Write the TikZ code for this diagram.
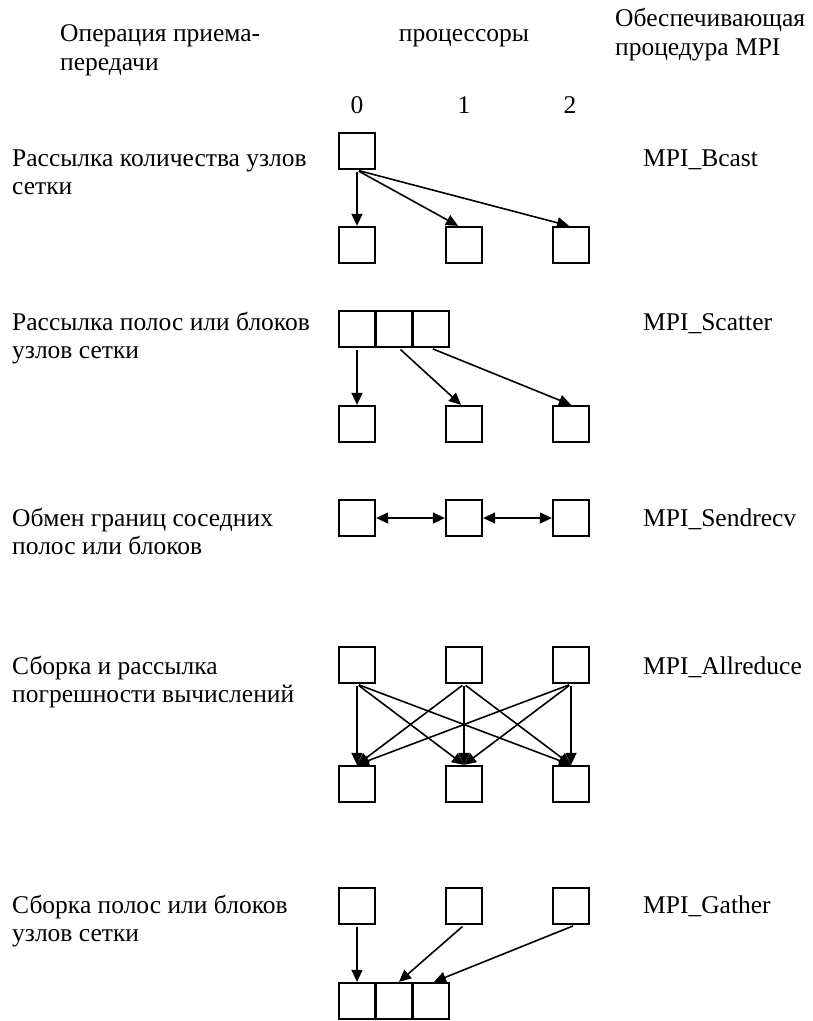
\documentclass[tikz,border=0pt]{standalone}
\usepackage{fontspec}
\setmainfont{Liberation Serif}
\usetikzlibrary{arrows.meta, positioning}

\begin{document}
\begin{tikzpicture}[x=1pt, y=-1pt, >={Triangle[length=12pt, width=11pt]}]
	\tikzstyle{cell} = [draw, line width=2.3pt, minimum size=36pt, inner sep=0pt]
	\tikzstyle{txt} = [font=\fontsize{25.5}{28.5}\selectfont, align=left, anchor=base west, inner sep=0pt]
	\tikzstyle{link} = [->, line width=1.6pt, shorten <=2pt]

	\useasboundingbox (0,0) rectangle (813,1021);

	% headers (base of a two-line node = its last line)
	\node[txt] (oper) at (60,70) {Операция приема-\\передачи};
	\node[txt, anchor=base] (proc) at (464,41) {процессоры};
	\node[txt] (mpi) at (615,55) {Обеспечивающая\\процедура MPI};
	\node[txt, anchor=base] (n0) at (357,113) {0};
	\node[txt, anchor=base] (n1) at (464,113) {1};
	\node[txt, anchor=base] (n2) at (570,113) {2};

	% MPI_Bcast
	\begin{scope}[node distance=94pt]
		\node[txt] (lbcast) at (12,194.5) {Рассылка количества узлов\\сетки};
		\node[txt] (mbcast) at (643,166) {MPI\_Bcast};
		\path[link]
			node[cell] (t0) at (357,151) {}
			node[cell, below of=t0] (d0) {}
			node[cell, right of=d0, node distance=107pt] (d1) {}
			node[cell, right of=d1, node distance=107pt] (d2) {}

			(t0.south) edge (d0.north)
			(t0.south) edge ([xshift=-6pt]d1.north)
			(t0.south) edge ([xshift=-2pt]d2.north)
		;
	\end{scope}

	% MPI_Scatter
	\begin{scope}[node distance=95pt]
		\node[txt] (lscatter) at (12,358.5) {Рассылка полос или блоков\\узлов сетки};
		\node[txt] (mscatter) at (643,330) {MPI\_Scatter};
		\path[link]
			node[cell] (t0) at (357,329) {}
			node[cell, right of=t0, node distance=37pt] (t1) {}
			node[cell, right of=t1, node distance=37pt] (t2) {}
			node[cell, below of=t0] (d0) {}
			node[cell, right of=d0, node distance=107pt] (d1) {}
			node[cell, right of=d1, node distance=107pt] (d2) {}

			(t0.south) edge (d0.north)
			([xshift=5pt]t1.south) edge ([xshift=-3pt]d1.north)
			(t2.south) edge (d2.north)
		;
	\end{scope}

	% MPI_Sendrecv
	\begin{scope}[node distance=107pt]
		\node[txt] (lsend) at (12,554.5) {Обмен границ соседних\\полос или блоков};
		\node[txt] (msend) at (643,526) {MPI\_Sendrecv};
		\path[<->, line width=1.6pt]
			node[cell] (r0) at (357,518) {}
			node[cell, right of=r0] (r1) {}
			node[cell, right of=r1] (r2) {}

			(r0.east) edge (r1.west)
			(r1.east) edge (r2.west)
		;
	\end{scope}

	% MPI_Allreduce
	\begin{scope}[node distance=119pt]
		\node[txt] (lall) at (12,702.5) {Сборка и рассылка\\погрешности вычислений};
		\node[txt] (mall) at (643,674) {MPI\_Allreduce};
		\path[link]
			node[cell] (t0) at (357,665) {}
			node[cell, right of=t0, node distance=107pt] (t1) {}
			node[cell, right of=t1, node distance=107pt] (t2) {}
			node[cell, below of=t0] (d0) {}
			node[cell, below of=t1] (d1) {}
			node[cell, below of=t2] (d2) {}

			(t0.south) edge (d0.north)
			(t0.south) edge (d1.north)
			(t0.south) edge (d2.north)
			(t1.south) edge (d0.north)
			(t1.south) edge (d1.north)
			(t1.south) edge (d2.north)
			(t2.south) edge (d0.north)
			(t2.south) edge (d1.north)
			(t2.south) edge (d2.north)
		;
	\end{scope}

	% MPI_Gather
	\begin{scope}[node distance=95pt]
		\node[txt] (lgather) at (12,941.5) {Сборка полос или блоков\\узлов сетки};
		\node[txt] (mgather) at (643,913) {MPI\_Gather};
		\path[link]
			node[cell] (t0) at (357,906) {}
			node[cell, right of=t0, node distance=107pt] (t1) {}
			node[cell, right of=t1, node distance=107pt] (t2) {}
			node[cell, below of=t0] (g0) {}
			node[cell, right of=g0, node distance=37pt] (g1) {}
			node[cell, right of=g1, node distance=37pt] (g2) {}

			(t0.south) edge (g0.north)
			(t1.south) edge ([xshift=5pt]g1.north)
			([xshift=4pt]t2.south) edge ([xshift=3pt]g2.north)
		;
	\end{scope}
\end{tikzpicture}
\end{document}
